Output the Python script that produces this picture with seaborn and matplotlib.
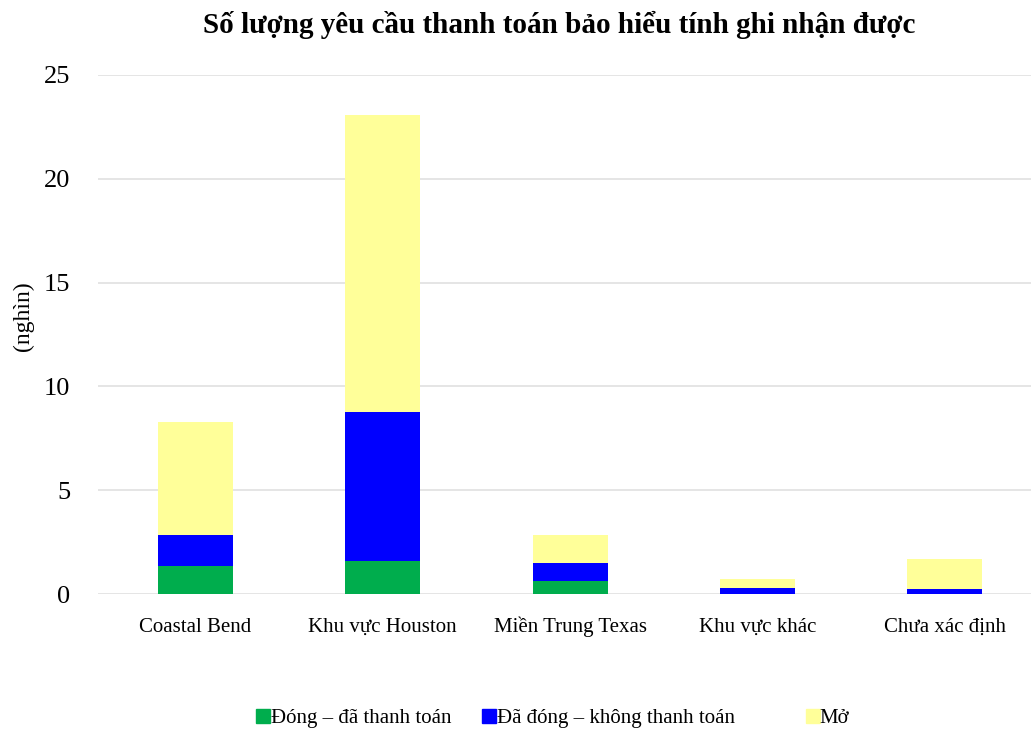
import matplotlib
matplotlib.use("Agg")
import matplotlib.pyplot as plt
import seaborn as sns
import pandas as pd
import numpy as np
from matplotlib.lines import Line2D

categories = ["Coastal Bend", "Khu vực Houston", "Miền Trung Texas", "Khu vực khác", "Chưa xác định"]
closed_paid = [1.36, 1.62, 0.66, 0.03, 0.02]
closed_unpaid = [1.51, 7.13, 0.87, 0.27, 0.25]
open_claims = [5.41, 14.32, 1.33, 0.46, 1.43]
series_names = ["Đóng – đã thanh toán", "Đã đóng – không thanh toán", "Mở"]
colors = ["#00AD4D", "#0000FF", "#FFFF99"]
yticks = [0, 5, 10, 15, 20, 25]

sns.set_theme(style="white")
plt.rcParams['font.family'] = ['Liberation Serif', 'DejaVu Serif']
plt.rcParams['text.color'] = '#000000'
plt.rcParams['axes.labelcolor'] = '#000000'

df = pd.DataFrame({
    "cat": categories,
    "s1": closed_paid,
    "s2": np.array(closed_paid) + np.array(closed_unpaid),
    "s3": np.array(closed_paid) + np.array(closed_unpaid) + np.array(open_claims),
})

fig = plt.figure(figsize=(10.31, 7.32), dpi=100)
ax = fig.add_axes([0.095, 0.188, 0.905, 0.71])

for col, c in zip(["s3", "s2", "s1"], colors[::-1]):
    sns.barplot(data=df, x="cat", y=col, color=c, width=0.4, ax=ax,
                saturation=1, linewidth=0, errorbar=None, zorder=3)

ax.set_xlim(-0.52, 4.46)
ax.set_ylim(0, 25)
ax.set_yticks(yticks)
ax.yaxis.grid(True, color="#E3E3E3", linewidth=1.3, zorder=0)
ax.set_axisbelow(True)
for s in ax.spines.values():
    s.set_visible(False)
ax.tick_params(axis="both", length=0, colors="#000000")
ax.tick_params(axis="y", pad=20, labelsize=19)
ax.tick_params(axis="x", pad=27, labelsize=15)
for lbl in ax.get_xticklabels():
    lbl.set_verticalalignment("baseline")
ax.set_xlabel("")
ax.set_ylabel("(nghìn)", fontsize=17, color="#000000")
ax.yaxis.set_label_coords(-0.069, 0.535)

fig.suptitle("Số lượng yêu cầu thanh toán bảo hiểu tính ghi nhận được",
             fontsize=21, fontweight="bold", x=0.542, y=0.985, color="#000000")

lefts = [0.2485, 0.4677, 0.781]
for c, name, x0 in zip(colors, series_names, lefts):
    h = Line2D([0], [0], marker="s", linestyle="", markersize=9.5,
               markerfacecolor=c, markeredgecolor=c)
    fig.legend([h], [name], loc="center left", bbox_to_anchor=(x0, 0.0191),
               frameon=False, fontsize=15, handletextpad=0.0,
               handlelength=0.7, borderpad=0, borderaxespad=0,
               labelcolor="#000000")

fig.savefig("out.png", dpi=100)
